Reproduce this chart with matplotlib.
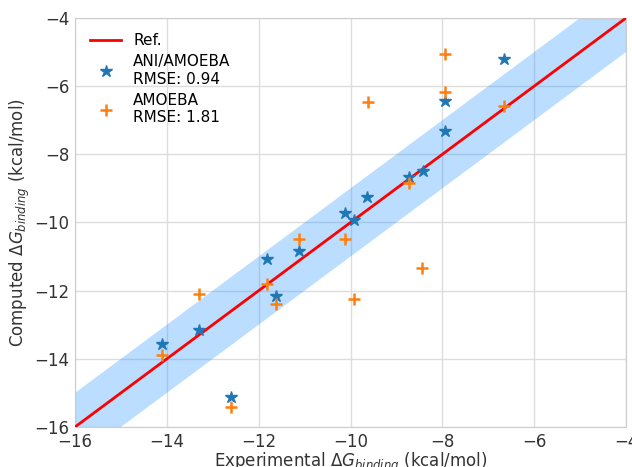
import numpy as np
import matplotlib
matplotlib.use("Agg")
from matplotlib import pyplot as plt

# valores experimentais / calculados (kcal/mol)
exp_ani = [-14.10, -13.30, -12.60, -11.81, -11.62, -11.12, -10.12, -9.92,
           -9.63, -8.72, -8.43, -7.94, -7.94, -6.66]
calc_ani = [-13.58, -13.16, -15.13, -11.08, -12.17, -10.84, -9.73, -9.94,
            -9.24, -8.66, -8.48, -6.44, -7.32, -5.21]

exp_amoeba = [-14.10, -13.30, -12.60, -11.81, -11.62, -11.12, -10.12, -9.92,
              -9.62, -8.72, -8.44, -7.94, -7.94, -6.66]
calc_amoeba = [-13.89, -12.10, -15.40, -11.81, -12.40, -10.48, -10.48, -12.25,
               -6.46, -8.83, -11.34, -5.07, -6.18, -6.58]

rmse_ani = 0.94
rmse_amoeba = 1.81
ref_range = [-16, -4]
band = 1.0

plt.rcParams['font.family'] = 'DejaVu Sans'
plt.rcParams['font.size'] = 12

fig = plt.figure(figsize=(6.32, 4.67), dpi=100)
ax = fig.add_axes([0.1187, 0.0857, 0.8718, 0.8758])

ref = np.array(ref_range, dtype=float)
ax.fill_between(ref, ref - band, ref + band, color='dodgerblue', alpha=0.3,
                linewidth=0, zorder=2)
ax.plot(ref, ref, color='red', lw=2, label='Ref.', zorder=3)
ax.plot(exp_ani, calc_ani, '*', color='#1f77b4', ms=9, ls='none',
        label=f'ANI/AMOEBA\nRMSE: {rmse_ani}', zorder=4)
ax.plot(exp_amoeba, calc_amoeba, '+', color='#ff7f0e', ms=8.5, mew=1.8, ls='none',
        label=f'AMOEBA\nRMSE: {rmse_amoeba}', zorder=4)

ax.set_xlim(-16, -4)
ax.set_ylim(-16, -4)
ax.set_xticks(np.arange(-16, -3, 2))
ax.set_yticks(np.arange(-16, -3, 2))
ax.grid(True, color='#dddddd', lw=1, zorder=0)
ax.set_axisbelow(True)
for s in ax.spines.values():
    s.set_color('#cccccc')
ax.tick_params(length=0, pad=4, colors='#333333', labelsize=12)

ax.set_xlabel(r'Experimental $\Delta G_{binding}$ (kcal/mol)', color='#333333',
              labelpad=0)
ax.set_ylabel(r'Computed $\Delta G_{binding}$ (kcal/mol)', color='#333333',
              labelpad=2)

leg = ax.legend(loc='upper left', frameon=False, fontsize=11,
                labelspacing=0.4, borderaxespad=0.6)

fig.savefig('out.png', dpi=100)
